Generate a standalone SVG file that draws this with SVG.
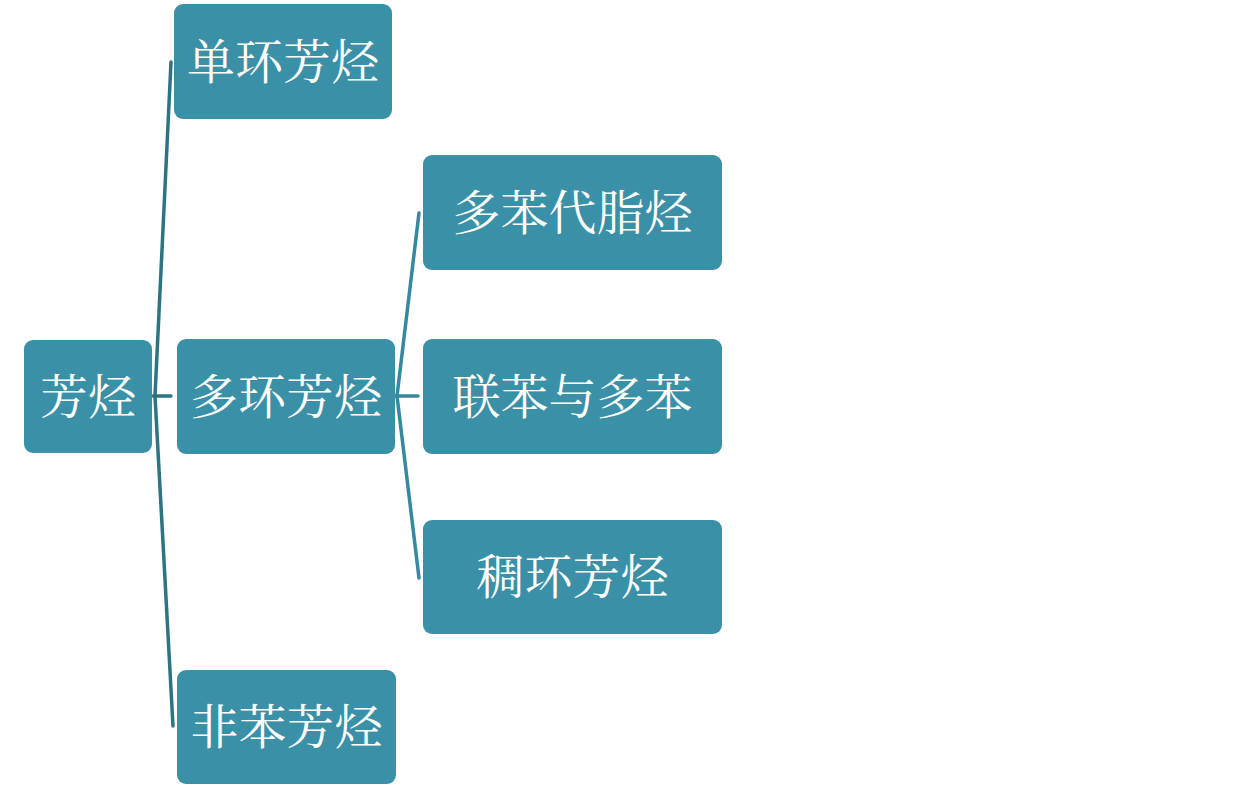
<svg xmlns="http://www.w3.org/2000/svg" width="1252" height="800" viewBox="0 0 1252 800">
<style>
.box{fill:#3A90A6;}
.t{fill:#FFFFFF;font-family:"Noto Serif CJK SC","Noto Sans CJK SC",serif;font-size:48px;text-anchor:middle;dominant-baseline:central;}
.c1{stroke:#2C7384;stroke-width:3.5;fill:none;stroke-linecap:round;}
.c2{stroke:#3488A0;stroke-width:3.5;fill:none;stroke-linecap:round;}
</style>
<rect width="1252" height="800" fill="#FFFFFF"/>
<g id="connectors">
<path class="c1" d="M153 396 L171 396"/>
<path class="c1" d="M155 396 L171 62"/>
<path class="c1" d="M155 396 L173 726"/>
<path class="c2" d="M396 396 L418 396"/>
<path class="c2" d="M397 396 L419 213"/>
<path class="c2" d="M397 396 L419 578"/>
</g>
<g id="n_root"><rect class="box" x="24" y="340" width="128" height="113" rx="9"/><text class="t" x="88" y="393">芳烃</text></g>
<g id="n_single"><rect class="box" x="174" y="4" width="218" height="115" rx="9"/><text class="t" x="283" y="58">单环芳烃</text></g>
<g id="n_poly"><rect class="box" x="177" y="339" width="218" height="115" rx="9"/><text class="t" x="286" y="393">多环芳烃</text></g>
<g id="n_nonbenz"><rect class="box" x="177" y="670" width="219" height="114" rx="9"/><text class="t" x="286.5" y="723">非苯芳烃</text></g>
<g id="n_polyphenyl"><rect class="box" x="423" y="155" width="299" height="115" rx="9"/><text class="t" x="572.5" y="209">多苯代脂烃</text></g>
<g id="n_biphenyl"><rect class="box" x="423" y="339" width="299" height="115" rx="9"/><text class="t" x="572.5" y="393">联苯与多苯</text></g>
<g id="n_fused"><rect class="box" x="423" y="520" width="299" height="114" rx="9"/><text class="t" x="572.5" y="573">稠环芳烃</text></g>
</svg>
